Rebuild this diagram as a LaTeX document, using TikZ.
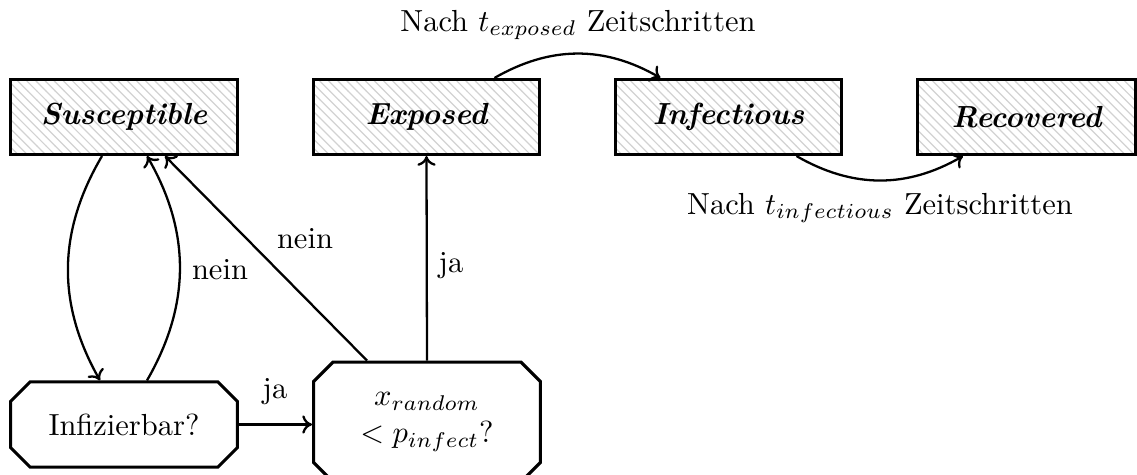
\documentclass[tikz,border=0pt]{standalone}
\usetikzlibrary{shapes.misc,patterns,calc,arrows.meta}
\tikzset{
  state/.style={draw, line width=1pt, rectangle, minimum width=74.4pt, minimum height=24.6pt,
    inner sep=0pt, pattern=north west lines, pattern color=gray!35,
    font=\bfseries\itshape},
  question/.style={draw, line width=1pt, chamfered rectangle, chamfered rectangle xsep=3.2pt,
    chamfered rectangle ysep=3.2pt, minimum width=74.4pt, inner sep=0pt, align=center},
  conn/.style={-{To[length=3.2pt,width=6pt]}, line width=0.75pt},
  lbl/.style={inner sep=1pt}
}
\begin{document}
\begin{tikzpicture}[x=0.3279pt, y=-0.3279pt]
\useasboundingbox (0,0) rectangle (1137,475);
\node[state] (S) at (124,117) {Susceptible};
\node[state] (E) at (426.5,117) {Exposed};
\node[state] (I) at (728.5,117) {Infectious};
\node[state, minimum width=71.6pt] (R) at (1026.5,117) {Recovered};
\node[question, minimum height=27.9pt] (Q) at (124,424.5) {Infizierbar?};
\node[question, minimum height=39.3pt] (X) at (427,422) {$x_{random}$\\$<p_{infect}$?};

\draw[conn] ($(S.south)+(-22,0)$) to[bend right=30] ($(Q.north)+(-24,0)$);
\draw[conn] ($(Q.north)+(23,0)$) to[bend right=30] ($(S.south)+(23,0)$);
\draw[conn] ($(X.north)+(-60,0)$) -- ($(S.south)+(41,0)$);
\draw[conn] (X.north) -- (E.south);
\draw[conn] (Q.east) -- (Q.east -| X.west);
\draw[conn] ($(E.north)+(68,0)$) to[bend left=30] ($(I.north)+(-68,0)$);
\draw[conn] ($(I.south)+(68,0)$) to[bend right=30] ($(R.south)+(-63.5,0)$);

\node[lbl] (l1) at (578,25) {Nach $t_{exposed}$ Zeitschritten};
\node[lbl] (l2) at (880,208) {Nach $t_{infectious}$ Zeitschritten};
\node[lbl] (l3) at (220,270) {nein};
\node[lbl] (l4) at (305,239) {nein};
\node[lbl] (l5) at (451,266) {ja};
\node[lbl] (l6) at (275,392) {ja};
\end{tikzpicture}
\end{document}
